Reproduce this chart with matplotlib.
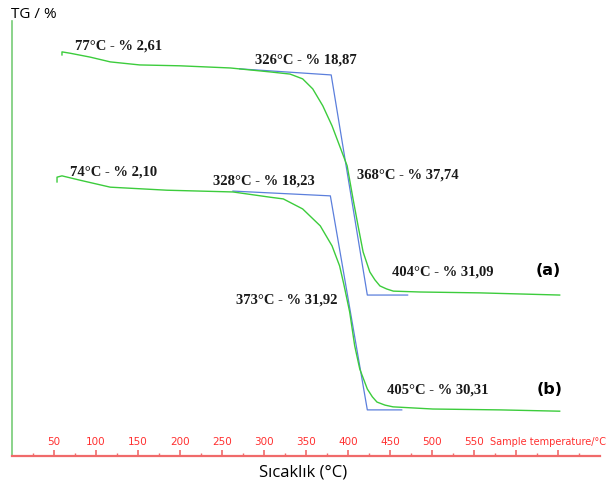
import matplotlib
matplotlib.use("Agg")
import matplotlib.pyplot as plt

# TG curve (a): temperature (deg C) and relative TG reading
temp_a = [59.5, 59.5, 69, 93, 117, 152, 200, 260, 307, 331, 346, 358, 370, 381, 390,
          399, 406, 412, 418, 426, 432, 438, 446, 454, 486, 557, 652]
tg_a = [92.2, 92.9, 92.6, 91.7, 90.6, 89.9, 89.7, 89.2, 88.3, 87.8, 86.7, 84.4, 80.5,
        75.9, 71.3, 66.7, 59.1, 52.9, 46.9, 42.3, 40.5, 39.1, 38.4, 37.9, 37.7, 37.5, 37.0]

# TG curve (b)
temp_b = [53.6, 53.6, 59.5, 81, 117, 184.5, 263, 307, 323, 346, 367, 381, 390, 395,
          402, 408, 414, 423, 429, 434.5, 444, 453.6, 501, 581, 652]
tg_b = [63.0, 64.1, 64.4, 63.4, 61.8, 61.1, 60.7, 59.5, 59.1, 56.8, 52.9, 48.3, 43.7,
        39.5, 33.1, 25.3, 20.0, 15.4, 13.6, 12.4, 11.7, 11.3, 10.8, 10.6, 10.3]

# tangent constructions (onset / endset)
tan_temp_a = [271, 380, 423, 471]
tan_tg_a = [89.0, 87.6, 37.0, 37.0]
tan_temp_b = [263, 379, 423, 464]
tan_tg_b = [60.9, 59.8, 10.6, 10.6]

# annotations
labels = ["77°C - % 2,61", "326°C - % 18,87", "368°C - % 37,74", "404°C - % 31,09",
          "74°C - % 2,10", "328°C - % 18,23", "373°C - % 31,92", "405°C - % 30,31"]
label_pos = [(75, 94.5), (289, 91.3), (411, 64.8), (452, 42.5),
             (69, 65.5), (239, 63.4), (267, 36.1), (446, 15.4)]

tick_vals = [50, 100, 150, 200, 250, 300, 350, 400, 450, 500, 550]

fig = plt.figure(figsize=(6.06, 4.89), dpi=100)
ax = fig.add_axes([12 / 606, 32 / 489, 588 / 606, 435 / 489])
ax.set_xlim(0, 700)
ax.set_ylim(0, 100)

green = "#3ccc3c"
blue = "#5b7fdc"
ax.plot(tan_temp_a, tan_tg_a, color=blue, lw=0.9)
ax.plot(tan_temp_b, tan_tg_b, color=blue, lw=0.9)
ax.plot(temp_a, tg_a, color=green, lw=1.0)
ax.plot(temp_b, tg_b, color=green, lw=1.0)

for txt, (x, y) in zip(labels, label_pos):
    ax.text(x, y, txt, family="Liberation Serif", fontweight="bold", fontsize=10.5,
            color="#1a1a1a", ha="left", va="center")
ax.text(623, 42.8, "(a)", family="DejaVu Sans", fontweight="bold", fontsize=11.5,
        ha="left", va="center")
ax.text(625, 15.6, "(b)", family="DejaVu Sans", fontweight="bold", fontsize=11.5,
        ha="left", va="center")

# axes styling
for s in ["top", "right"]:
    ax.spines[s].set_visible(False)
ax.spines["bottom"].set_color("#f06a6a")
ax.spines["bottom"].set_linewidth(1.6)
ax.spines["left"].set_color("#77cc77")
ax.spines["left"].set_linewidth(1.2)

ax.set_yticks([])
ax.set_xticks(range(50, 700, 50))
ax.set_xticks(range(25, 700, 50), minor=True)
ax.set_xticklabels([])
ax.tick_params(axis="x", which="major", direction="in", length=4, width=1.2, color="#f06a6a")
ax.tick_params(axis="x", which="minor", direction="in", length=2, width=1.0, color="#f06a6a")

red = "#ff3030"
for t in tick_vals:
    ax.annotate(str(t), (t, 0), xycoords=("data", "axes fraction"), xytext=(0, 11),
                textcoords="offset points", ha="center", va="center",
                fontsize=7.5, color=red, family="Liberation Sans Narrow")
ax.annotate("Sample temperature/°C", (569, 0), xycoords=("data", "axes fraction"),
            xytext=(0, 11), textcoords="offset points", ha="left", va="center",
            fontsize=7, color=red, family="Liberation Sans Narrow")

fig.text(11 / 606, 1 - 15 / 489, "TG / %", family="Open Sans", fontsize=11,
         ha="left", va="center")
fig.text(303 / 606, 1 - 473 / 489, "Sıcaklık (°C)", family="Open Sans", fontsize=12,
         ha="center", va="center")

fig.savefig("out.png", dpi=100)
